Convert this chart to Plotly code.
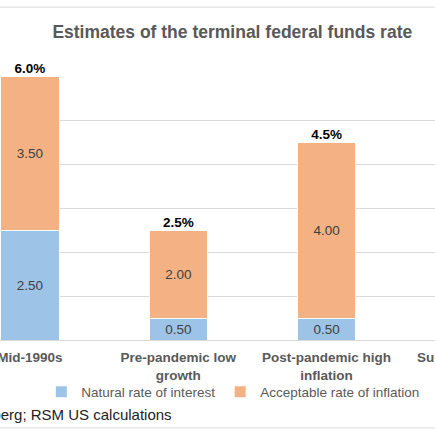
import plotly.graph_objects as go

# chart data
categories = ["Mid-1990s", "Pre-pandemic low<br>growth", "Post-pandemic high<br>inflation"]
next_category = "Supply-side shock"  # fourth scenario, cut off at the right edge
natural_rate = [2.50, 0.50, 0.50]
inflation_rate = [3.50, 2.00, 4.00]
totals = [n + a for n, a in zip(natural_rate, inflation_rate)]

FONT = "Arial, Liberation Sans, sans-serif"
GRAY = "#595959"
BLUE = "#9DC3E6"
ORANGE = "#F4B183"

# x range chosen so the view is cropped like the source image
x_range = [-0.202, 2.731]

fig = go.Figure()
fig.add_trace(go.Bar(
    x=categories, y=natural_rate, name="Natural rate of interest",
    marker=dict(color=BLUE, line=dict(color="white", width=1)),
    text=[f"{v:.2f}" for v in natural_rate], textposition="inside",
    insidetextanchor="middle", textangle=0,
    textfont=dict(family=FONT, size=13.5, color="#404040"),
))
fig.add_trace(go.Bar(
    x=categories, y=inflation_rate, name="Acceptable rate of inflation",
    marker=dict(color=ORANGE, line=dict(color="white", width=1)),
    text=[f"{v:.2f}" for v in inflation_rate], textposition="inside",
    insidetextanchor="middle", textangle=0,
    textfont=dict(family=FONT, size=13.5, color="#404040"),
))
fig.add_trace(go.Scatter(
    x=categories, y=totals, mode="text",
    text=[f"<b>{t:.1f}%</b>" for t in totals], textposition="top center",
    textfont=dict(family=FONT, size=13.5, color="black"),
    showlegend=False, hoverinfo="skip", cliponaxis=False,
))

# label for the off-screen fourth category, centred where its tick would be
next_x = (3 - x_range[0]) / (x_range[1] - x_range[0])
fig.add_annotation(
    text=f"<b>{next_category}</b>", xref="paper", yref="paper",
    x=next_x, y=-0.066, xanchor="center", yanchor="middle", showarrow=False, xshift=2,
    font=dict(family=FONT, size=13.5, color=GRAY),
)
fig.add_annotation(
    text="Source: Bloomberg; RSM US calculations", xref="paper", yref="paper",
    x=0.40, y=-0.283, xanchor="right", yanchor="middle", showarrow=False,
    font=dict(family=FONT, size=15, color="#222222"),
)

# chart frame lines
for yy in (1.261, -0.333):
    fig.add_shape(type="line", xref="paper", yref="paper", x0=0, x1=1, y0=yy, y1=yy,
                  line=dict(color="#d9d9d9", width=1))

fig.update_layout(
    width=435, height=435,
    barmode="stack", bargap=0.606,
    margin=dict(l=0, r=0, t=76, b=95),
    plot_bgcolor="white", paper_bgcolor="white",
    title=dict(text="<b>Estimates of the terminal federal funds rate</b>",
               x=0.534, xanchor="center", y=0.926, yanchor="middle", yref="container",
               font=dict(family=FONT, size=17.5, color=GRAY)),
    legend=dict(orientation="h", x=0.095, xanchor="left", y=-0.197, yanchor="middle",
                bgcolor="rgba(0,0,0,0)",
                font=dict(family=FONT, size=13.5, color=GRAY), traceorder="normal"),
    showlegend=True,
)
fig.update_xaxes(range=x_range, automargin=False, showline=True, linecolor="#d9d9d9",
                 linewidth=1, tickfont=dict(family=FONT, size=13.5, color=GRAY), ticks="",
                 ticklabelstandoff=5, tickprefix="<b>", ticksuffix="</b>")
fig.update_yaxes(range=[0, 6], dtick=1, automargin=False, showgrid=True, gridcolor="#d9d9d9",
                 gridwidth=1, showticklabels=False, zeroline=False)

# drop the page's default body margin so the figure sits at the window corner
fig.write_html("out.html", config={"displayModeBar": False},
               post_script="document.body.style.margin='0';")
